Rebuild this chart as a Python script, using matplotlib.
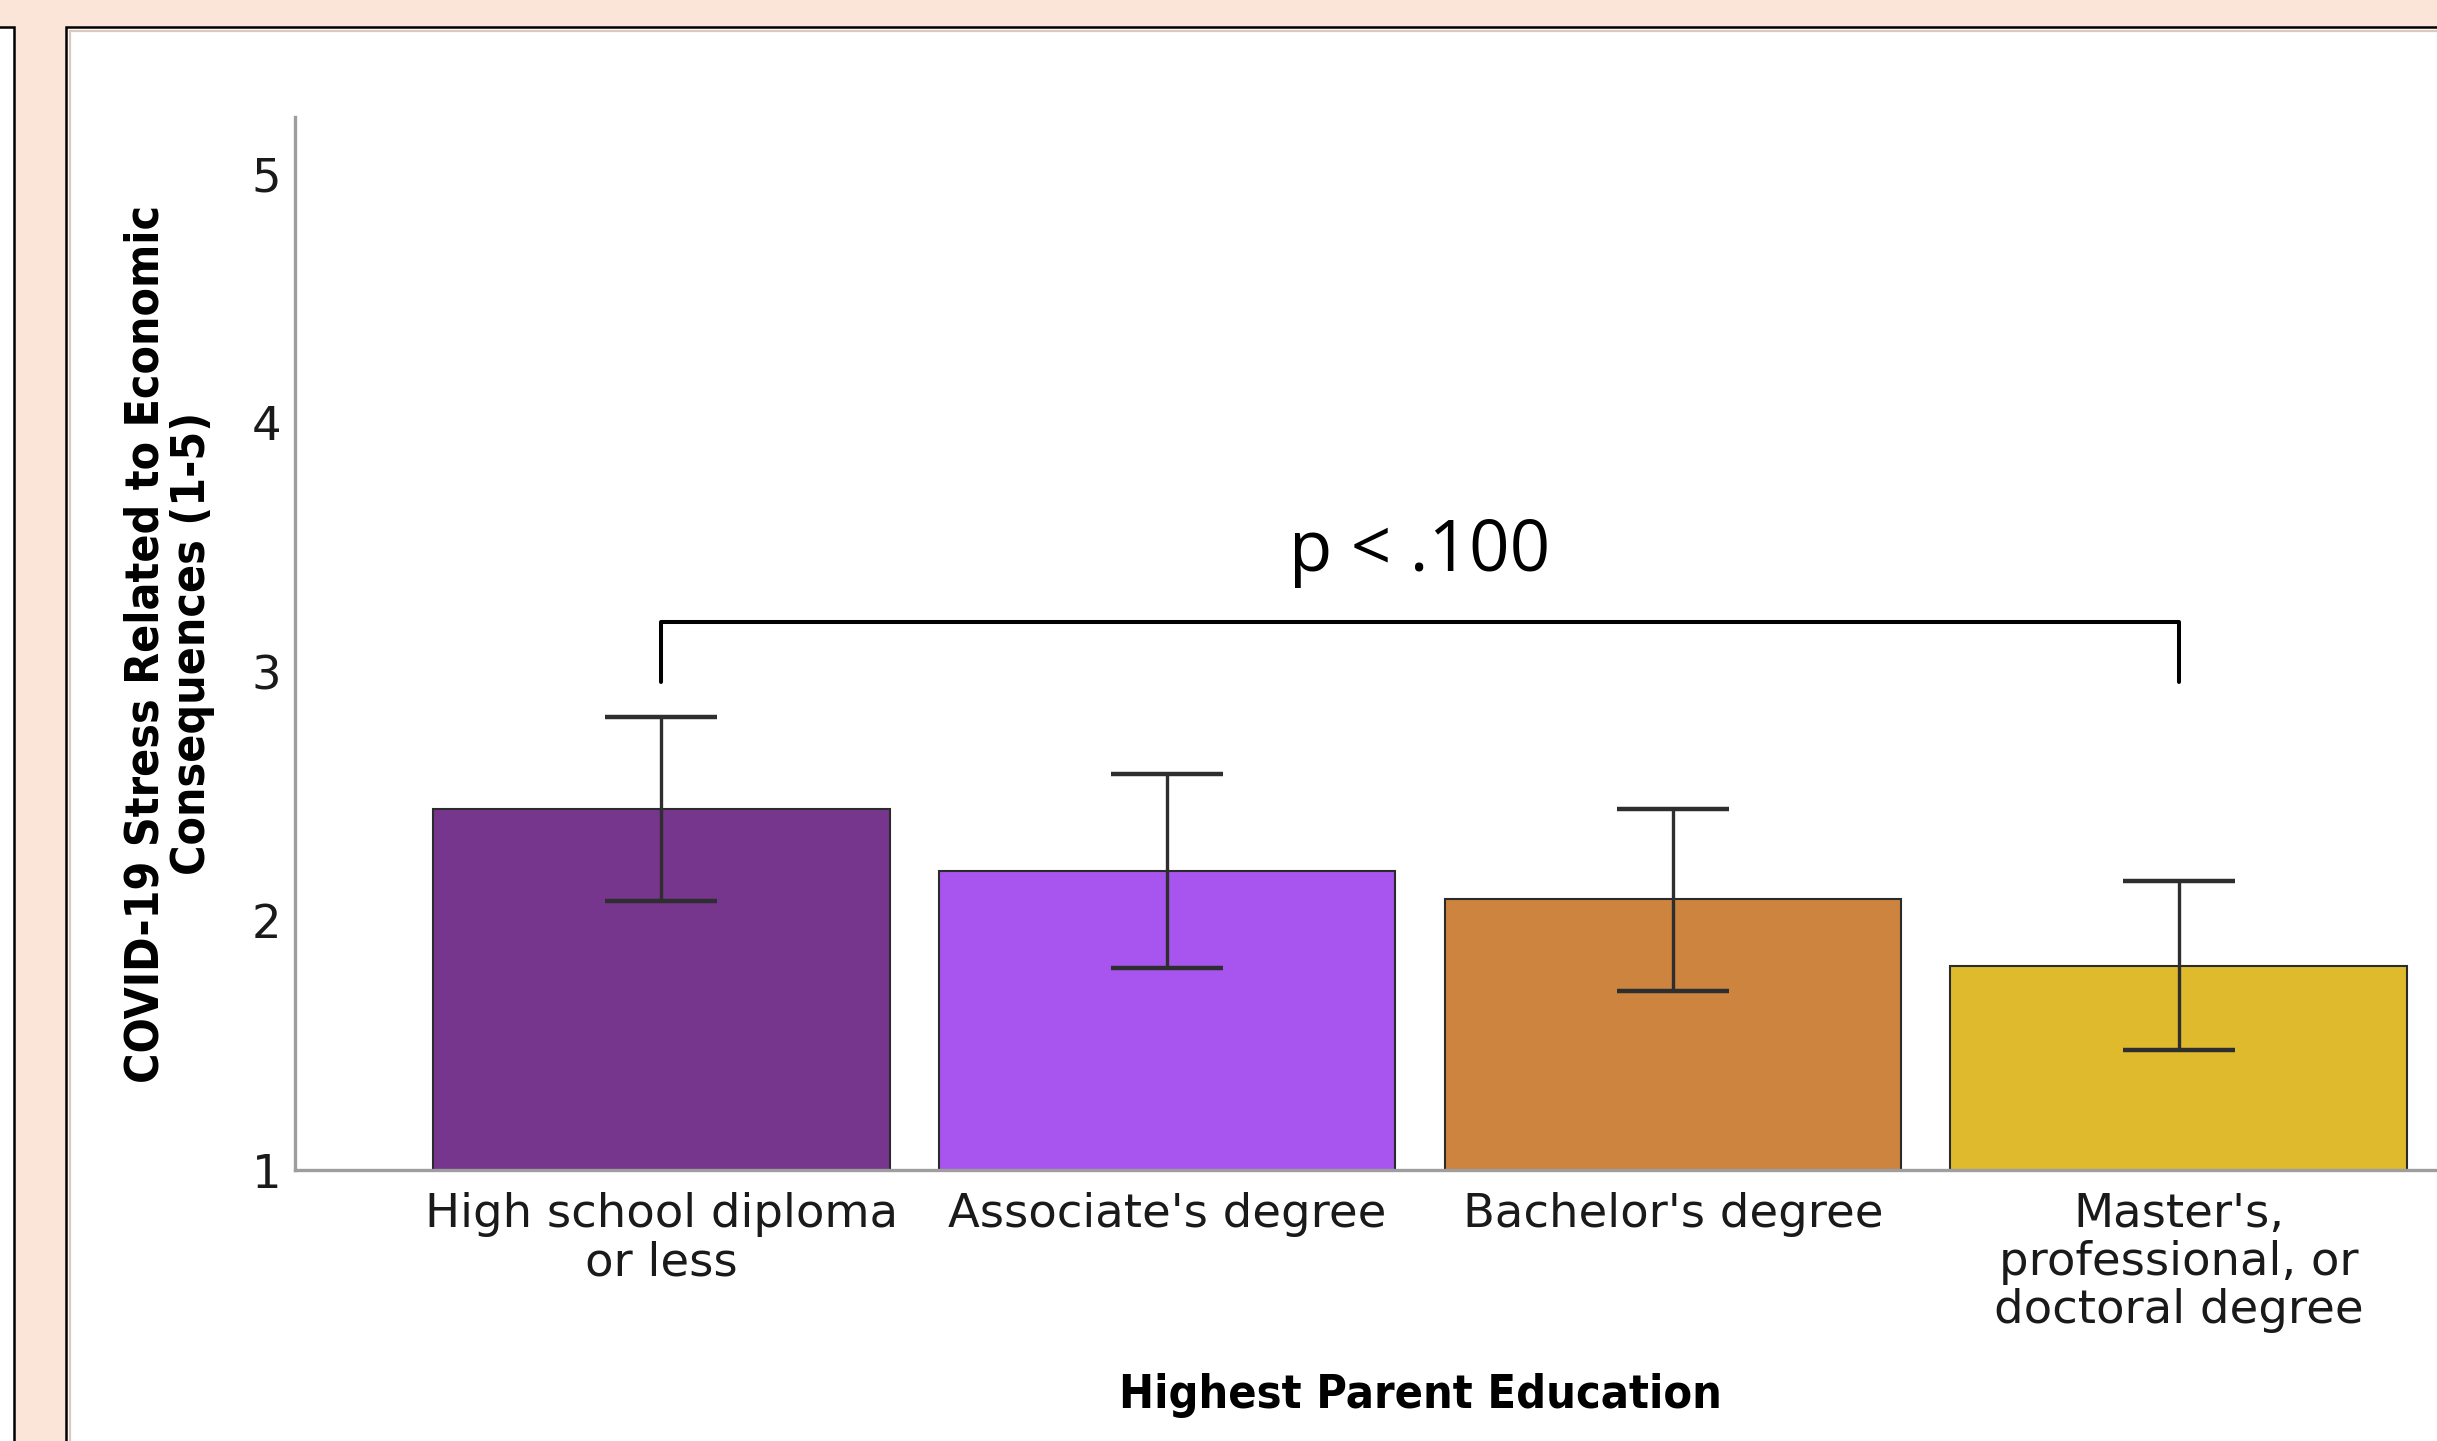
import numpy as np
import matplotlib
matplotlib.use("Agg")
import matplotlib.pyplot as plt
from matplotlib.patches import Rectangle
from matplotlib.lines import Line2D
from matplotlib import font_manager as fm

# ---- data -------------------------------------------------------------
categories = [
    "High school diploma\nor less",
    "Associate's degree",
    "Bachelor's degree",
    "Master's,\nprofessional, or\ndoctoral degree",
]
means = [2.45, 2.20, 2.09, 1.82]
ci_low = [2.08, 1.81, 1.72, 1.48]
ci_high = [2.82, 2.59, 2.45, 2.16]
bar_colors = ["#76368E", "#A855EF", "#CC843F", "#E0BA2D"]
y_ticks = [1, 2, 3, 4, 5]
bracket_pair = (0, 3)
bracket_low, bracket_high = 2.96, 3.20
p_label = "p < .100"
p_label_y = 3.48
x_title = "Highest Parent Education"
y_title = "COVID-19 Stress Related to Economic\nConsequences (1-5)"

# ---- canvas -----------------------------------------------------------
W, H, DPI = 2437, 1441, 100
fig = plt.figure(figsize=(W / DPI, H / DPI), dpi=DPI)
fig.patch.set_facecolor("#FAE5D8")


def fx(px):
    return px / W


def fy(py):
    return 1 - py / H


def panel(x0, y0, x1, y1):
    fig.patches.append(Rectangle((fx(x0), fy(y1)), fx(x1 - x0), fy(y0) - fy(y1),
                                 transform=fig.transFigure, facecolor="white",
                                 edgecolor="black", linewidth=1.8, zorder=-2))


# white panels with dark frames and a faint inner shadow
panel(-20, 27, 14, H + 20)
panel(66, 27, W + 20, H + 20)
fig.lines.append(Line2D([fx(70), fx(70)], [fy(31), 0], transform=fig.transFigure,
                        color="#DCC8BD", linewidth=1.6, zorder=-1))
fig.lines.append(Line2D([fx(70), 1], [fy(31), fy(31)], transform=fig.transFigure,
                        color="#DCC8BD", linewidth=1.6, zorder=-1))

# ---- axes -------------------------------------------------------------
ax_left, ax_right, ax_top, ax_bottom = 295, 2545, 117, 1170
ax = fig.add_axes([fx(ax_left), fy(ax_bottom), fx(ax_right - ax_left), fy(ax_top) - fy(ax_bottom)])
ax.set_zorder(2)
ax.patch.set_alpha(0)

x = np.arange(len(categories))
means_a = np.array(means)
yerr = [means_a - np.array(ci_low), np.array(ci_high) - means_a]

ax.bar(x, means_a, width=0.903, color=bar_colors, edgecolor="#2b2b2b",
       linewidth=1.5, zorder=2)
ax.errorbar(x, means_a, yerr=yerr, fmt="none", ecolor="#2e2e2e",
            elinewidth=2.4, capsize=40, capthick=3.2, zorder=3)

# significance bracket
b0, b1 = bracket_pair
ax.plot([b0, b0, b1, b1], [bracket_low, bracket_high, bracket_high, bracket_low],
        color="black", linewidth=2.9, solid_joinstyle="round",
        solid_capstyle="round", zorder=4)
ax.text((b0 + b1) / 2, p_label_y, p_label, ha="center", va="center",
        fontsize=51, family=["Open Sans", "DejaVu Sans"], color="black")

ax.set_xlim(-0.724, 3.724)
ax.set_ylim(1, 1 + (ax_bottom - ax_top) / 249)
ax.set_yticks(y_ticks)
ax.set_yticklabels([str(t) for t in y_ticks])
ax.set_xticks(x)
ax.set_xticklabels(categories, linespacing=1.08)

for side in ("top", "right"):
    ax.spines[side].set_visible(False)
for side in ("left", "bottom"):
    ax.spines[side].set_color("#9E9E9E")
    ax.spines[side].set_linewidth(2.4)

ax.tick_params(axis="both", length=0, labelsize=33.5, colors="#1a1a1a")
ax.tick_params(axis="y", pad=10)
ax.tick_params(axis="x", pad=16)
for lab in ax.get_xticklabels() + ax.get_yticklabels():
    lab.set_family("DejaVu Sans")


# ---- axis titles in a narrow bold face ----------------------------------
def narrow_bold():
    for f in fm.fontManager.ttflist:
        if f.name.startswith("DejaVu Sans") and "Mono" not in f.name and \
                f.stretch == "condensed" and f.weight in ("bold", 700):
            return fm.FontProperties(fname=f.fname)
    for f in fm.fontManager.ttflist:
        if f.name == "Liberation Sans Narrow" and f.weight in ("bold", 700):
            return fm.FontProperties(fname=f.fname)
    return fm.FontProperties(family="DejaVu Sans", weight="bold")


title_font = narrow_bold()
xl = ax.set_xlabel(x_title, fontproperties=title_font, fontsize=33)
yl = ax.set_ylabel(y_title, fontproperties=title_font, fontsize=33)
xl.set_va("center")
yl.set_va("center")
yl.set_ha("center")
yl.set_multialignment("center")
ax.xaxis.set_label_coords(0.5, -(1396 - ax_bottom) / (ax_bottom - ax_top))
ax.yaxis.set_label_coords(-(ax_left - 169) / (ax_right - ax_left), 0.5)

# fit the title sizes to their intended lengths
fig.canvas.draw()
r = fig.canvas.get_renderer()
w_x = xl.get_window_extent(r).width
xl.set_fontsize(33 * 605 / w_x)
h_y = yl.get_window_extent(r).height
ysize = 33 * 878 / h_y
yl.set_fontsize(ysize)
em_px = ysize * DPI / 72
yl.set_linespacing(0.78 * 46.5 / (0.76 * em_px))

fig.savefig("out.png", dpi=DPI, facecolor=fig.get_facecolor())
